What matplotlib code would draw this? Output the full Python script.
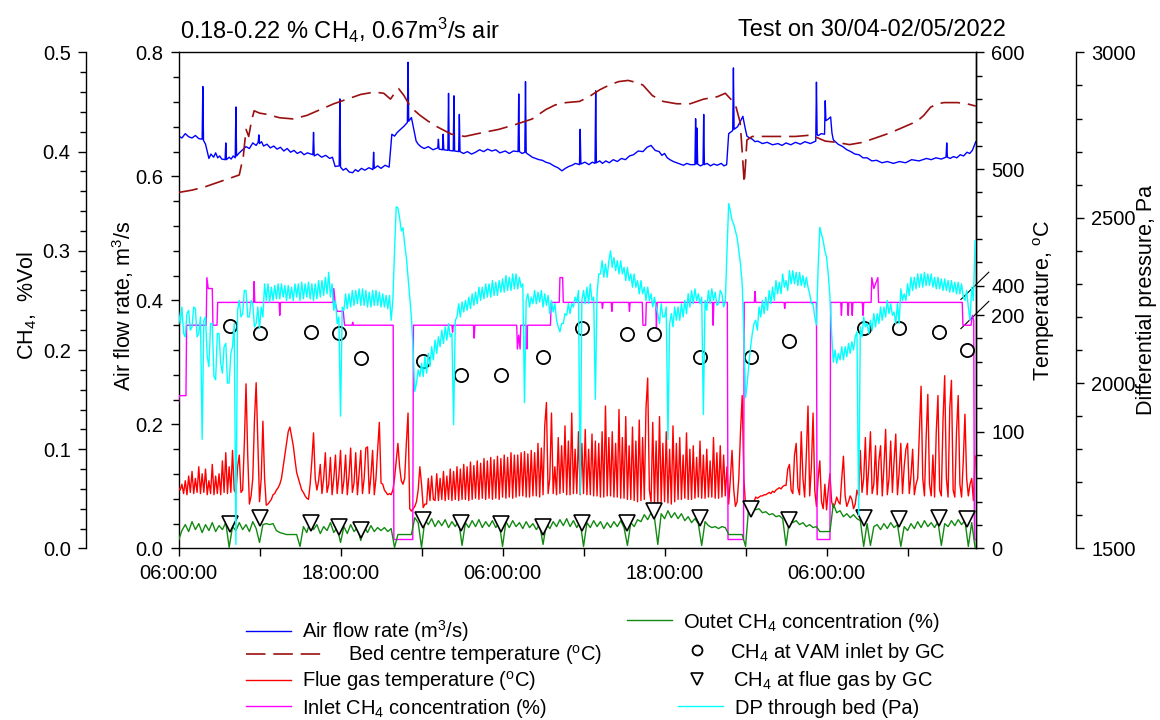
import numpy as np
import matplotlib
matplotlib.use('Agg')
import matplotlib.pyplot as plt
from matplotlib.ticker import MultipleLocator, FixedLocator, FuncFormatter

plt.rcParams['font.family'] = ['Liberation Sans', 'DejaVu Sans']
plt.rcParams['mathtext.fontset'] = 'custom'
plt.rcParams['mathtext.rm'] = 'Liberation Sans'
plt.rcParams['mathtext.it'] = 'Liberation Sans:italic'
plt.rcParams['mathtext.bf'] = 'Liberation Sans:bold'
plt.rcParams['mathtext.default'] = 'regular'

# ---- data (hours after 06:00 on 30/04/2022) ----
tick_hours = [0, 6, 12, 18, 24, 30, 36, 42, 48, 54]
tick_labels = ['06:00:00', '', '18:00:00', '', '06:00:00', '', '18:00:00', '', '06:00:00', '']

# air flow rate, m3/s  (hour, value)
air_flow = [
    (0, 0.665), (0.25, 0.662), (0.5, 0.669), (0.75, 0.664), (1.0, 0.662), (1.25, 0.666), (1.5, 0.661),
    (1.75, 0.660), (1.8, 0.745), (1.85, 0.658), (2.0, 0.652), (2.25, 0.629), (2.4, 0.636), (2.6, 0.631),
    (2.75, 0.638), (2.9, 0.630), (3.05, 0.633), (3.2, 0.628), (3.45, 0.627), (3.5, 0.654), (3.55, 0.627),
    (3.75, 0.631), (3.9, 0.628), (4.05, 0.633), (4.2, 0.630), (4.25, 0.712), (4.3, 0.633), (4.5, 0.638),
    (4.75, 0.643), (5.0, 0.648), (5.25, 0.645), (5.5, 0.654), (5.75, 0.650), (5.9, 0.655), (5.95, 0.667),
    (6.0, 0.653), (6.15, 0.656), (6.3, 0.649), (6.55, 0.652), (6.8, 0.646), (7.05, 0.649), (7.3, 0.644),
    (7.55, 0.647), (7.8, 0.641), (8.05, 0.645), (8.3, 0.639), (8.55, 0.642), (8.8, 0.637), (9.05, 0.640),
    (9.3, 0.635), (9.55, 0.638), (9.95, 0.635), (10.0, 0.671), (10.05, 0.633), (10.3, 0.636), (10.6, 0.631),
    (10.9, 0.634), (11.2, 0.629), (11.4, 0.631), (11.6, 0.616), (11.9, 0.617), (11.95, 0.725), (12.0, 0.615),
    (12.2, 0.610), (12.4, 0.613), (12.65, 0.607), (12.9, 0.606), (13.1, 0.611), (13.3, 0.608), (13.55, 0.613),
    (13.8, 0.610), (14.1, 0.614), (14.4, 0.611), (14.45, 0.639), (14.5, 0.613), (14.75, 0.617), (15.0, 0.613),
    (15.3, 0.618), (15.6, 0.615), (15.8, 0.668), (16.0, 0.665), (16.2, 0.671), (16.45, 0.676), (16.7, 0.681),
    (16.95, 0.687), (17.0, 0.784), (17.05, 0.689), (17.25, 0.695), (17.6, 0.657), (17.75, 0.652), (17.95, 0.648),
    (18.2, 0.645), (18.5, 0.648), (18.85, 0.643), (19.2, 0.646), (19.25, 0.660), (19.3, 0.644), (19.55, 0.643),
    (19.6, 0.668), (19.65, 0.643), (19.95, 0.642), (20.0, 0.734), (20.05, 0.642), (20.35, 0.641), (20.4, 0.730),
    (20.45, 0.641), (20.75, 0.640), (20.8, 0.700), (20.85, 0.640), (21.1, 0.637), (21.4, 0.640), (21.7, 0.636),
    (22.0, 0.639), (22.3, 0.643), (22.6, 0.640), (22.9, 0.644), (23.2, 0.641), (23.5, 0.643), (23.8, 0.638),
    (24.2, 0.641), (24.5, 0.637), (24.8, 0.641), (25.15, 0.640), (25.2, 0.733), (25.25, 0.640), (25.45, 0.637),
    (25.65, 0.639), (25.7, 0.753), (25.75, 0.638), (26.0, 0.634), (26.2, 0.631), (26.45, 0.629), (26.7, 0.627),
    (26.95, 0.626), (27.2, 0.623), (27.5, 0.621), (27.8, 0.617), (28.1, 0.614), (28.4, 0.609), (28.65, 0.613),
    (28.9, 0.616), (29.15, 0.618), (29.4, 0.621), (29.7, 0.619), (29.75, 0.676), (29.8, 0.620), (30.1, 0.623),
    (30.4, 0.619), (30.65, 0.623), (30.85, 0.621), (30.9, 0.738), (30.95, 0.622), (31.2, 0.625), (31.4, 0.621),
    (31.65, 0.625), (31.9, 0.622), (32.2, 0.627), (32.5, 0.624), (32.8, 0.629), (33.1, 0.627), (33.4, 0.633),
    (33.7, 0.635), (34.05, 0.641), (34.4, 0.640), (34.7, 0.647), (35.0, 0.650), (35.3, 0.642), (35.6, 0.640),
    (35.8, 0.634), (36.0, 0.637), (36.2, 0.630), (36.4, 0.627), (36.65, 0.624), (36.9, 0.622), (37.15, 0.620),
    (37.4, 0.618), (37.65, 0.621), (37.9, 0.619), (38.25, 0.619), (38.3, 0.693), (38.35, 0.620), (38.4, 0.678),
    (38.45, 0.620), (38.65, 0.617), (38.85, 0.619), (38.9, 0.700), (38.95, 0.619), (39.15, 0.621), (39.4, 0.617),
    (39.65, 0.620), (39.9, 0.618), (40.2, 0.621), (40.4, 0.617), (40.6, 0.619), (40.75, 0.669), (41.05, 0.674),
    (41.1, 0.775), (41.15, 0.676), (41.4, 0.680), (41.6, 0.688), (41.8, 0.697), (41.95, 0.680), (42.1, 0.665),
    (42.3, 0.662), (42.5, 0.660), (42.7, 0.656), (42.9, 0.657), (43.25, 0.653), (43.6, 0.655), (44.0, 0.651),
    (44.4, 0.653), (44.7, 0.650), (45.0, 0.654), (45.35, 0.651), (45.7, 0.655), (46.05, 0.652), (46.4, 0.656),
    (46.8, 0.653), (47.2, 0.657), (47.25, 0.752), (47.3, 0.668), (47.35, 0.666), (47.4, 0.666), (47.6, 0.669),
    (47.85, 0.668), (47.9, 0.722), (47.95, 0.690), (48.1, 0.692), (48.3, 0.696), (48.4, 0.670), (48.5, 0.659),
    (48.85, 0.652), (49.2, 0.648), (49.5, 0.643), (49.8, 0.640), (50.1, 0.636), (50.4, 0.635), (50.7, 0.630),
    (51.0, 0.630), (51.35, 0.625), (51.7, 0.626), (52.1, 0.622), (52.5, 0.624), (52.95, 0.621), (53.4, 0.624),
    (53.85, 0.622), (54.3, 0.627), (54.85, 0.625), (55.4, 0.629), (55.75, 0.627), (56.1, 0.630), (56.5, 0.628),
    (56.85, 0.631), (56.9, 0.654), (56.95, 0.631), (57.15, 0.629), (57.4, 0.632), (57.65, 0.630), (57.9, 0.635),
    (58.15, 0.633), (58.4, 0.639), (58.6, 0.637), (58.8, 0.642), (59.05, 0.656),
]

# bed centre temperature, degC  (hour, value)
bed_temp = [
    (0, 480), (1, 482), (2, 485), (3, 489), (4, 493), (4.5, 495), (4.8, 511), (5.0, 534), (5.2, 528),
    (5.4, 541), (5.6, 550), (6.0, 548), (6.5, 547), (7.5, 544), (8.5, 543), (9.5, 546), (10.5, 551),
    (11.5, 556), (12.5, 560), (13.5, 564), (14.5, 566), (15.2, 565), (15.7, 560), (16.0, 565), (16.3, 569),
    (16.7, 563), (17.2, 553), (17.9, 546), (18.5, 541), (19.2, 536), (20.2, 530), (21.2, 528), (22.4, 531),
    (23.7, 534), (24.9, 538), (26.2, 543), (27.2, 551), (27.9, 555), (28.7, 557), (29.7, 558), (30.4, 562),
    (31.2, 568), (31.9, 572), (32.6, 575), (33.3, 576), (34.0, 574), (34.4, 572), (35.1, 563), (35.9, 558),
    (36.9, 556), (37.9, 556), (38.9, 560), (39.9, 562), (40.5, 565), (40.9, 560), (41.3, 553), (41.6, 540),
    (41.75, 515), (41.9, 488), (42.0, 505), (42.1, 525), (42.5, 528), (43.4, 528), (44.4, 528), (45.7, 528),
    (46.7, 529), (47.3, 527), (47.9, 524), (48.7, 523), (49.7, 521), (50.7, 523), (51.7, 527), (52.7, 531),
    (53.7, 536), (54.7, 541), (55.2, 546), (55.7, 553), (56.2, 556), (56.7, 557), (57.7, 557), (58.4, 556),
    (59.05, 554),
]

# logger intervals
fast_step_h = 0.125   # flue gas temperature and DP
slow_step_h = 0.25    # outlet CH4

# flue gas temperature, degC (one row = 2 h)
flue_temp = [
    52, 50, 55, 47, 58, 46, 62, 48, 66, 47, 60, 48, 70, 47, 64, 48,
    68, 46, 58, 47, 72, 46, 62, 47, 64, 46, 75, 48, 82, 47, 70, 48,
    84, 50, 47, 70, 80, 48, 50, 90, 141, 80, 38, 45, 60, 110, 142, 90,
    40, 60, 109, 60, 37, 38, 40, 42, 46, 47, 50, 52, 55, 60, 70, 80,
    90, 100, 104, 96, 88, 76, 65, 60, 55, 50, 48, 45, 43, 42, 55, 75,
    99, 60, 50, 58, 72, 47, 60, 82, 48, 55, 78, 46, 60, 80, 47, 62,
    84, 47, 58, 80, 46, 62, 86, 48, 56, 82, 46, 64, 84, 47, 60, 86,
    87, 47, 62, 84, 46, 60, 85, 108, 56, 55, 50, 48, 46, 47, 46, 50,
    60, 75, 90, 70, 58, 55, 60, 90, 116, 34, 32, 34, 36, 40, 50, 70,
    55, 35, 38, 38, 60, 41, 62, 42, 41, 64, 41, 60, 42, 66, 41, 62,
    42, 68, 41, 66, 42, 70, 41, 68, 42, 72, 42, 70, 41, 74, 42, 71,
    43, 75, 42, 73, 43, 77, 42, 75, 43, 78, 42, 76, 43, 79, 42, 77,
    44, 80, 43, 78, 44, 82, 43, 80, 44, 80, 45, 82, 45, 83, 44, 81,
    44, 84, 45, 82, 45, 90, 44, 86, 46, 105, 125, 47, 60, 116, 47, 70,
    46, 95, 47, 88, 48, 105, 46, 92, 46, 116, 47, 85, 47, 100, 46, 90,
    47, 102, 46, 85, 46, 98, 45, 92, 45, 90, 44, 100, 44, 122, 45, 95,
    45, 100, 44, 90, 44, 119, 43, 95, 43, 113, 42, 88, 42, 104, 41, 92,
    40, 110, 41, 95, 42, 120, 146, 50, 40, 108, 39, 92, 39, 113, 40, 90,
    40, 100, 39, 85, 38, 105, 40, 90, 42, 95, 42, 80, 43, 99, 42, 85,
    42, 88, 43, 78, 44, 92, 43, 80, 43, 85, 44, 75, 44, 95, 43, 82,
    43, 88, 44, 80, 45, 70, 38, 60, 84, 50, 36, 40, 60, 100, 131, 60,
    36, 34, 32, 33, 36, 40, 44, 43, 44, 45, 45, 46, 46, 47, 48, 47,
    49, 48, 50, 51, 52, 51, 53, 54, 54, 68, 72, 50, 47, 80, 90, 52,
    46, 100, 60, 44, 80, 122, 45, 70, 116, 50, 36, 60, 75, 40, 34, 55,
    33, 50, 64, 40, 35, 38, 44, 40, 38, 60, 79, 45, 36, 40, 45, 42,
    34, 38, 50, 45, 84, 48, 60, 95, 46, 70, 100, 47, 55, 88, 46, 75,
    88, 45, 70, 102, 46, 60, 92, 48, 75, 98, 46, 65, 90, 47, 70, 85,
    90, 47, 62, 85, 46, 55, 60, 100, 139, 60, 45, 95, 132, 55, 45, 80,
    44, 100, 131, 50, 45, 110, 148, 60, 44, 120, 144, 50, 44, 100, 131, 55,
    44, 75, 115, 60, 45, 55, 60, 41, 79,
]

# differential pressure through bed, Pa (one row = 2 h)
dp_bed = [
    2215, 2180, 2230, 2150, 2140, 2210, 2220, 2160, 2170, 2230, 2225, 2140, 2150, 2200, 1830, 2190,
    2200, 2080, 2050, 2180, 2180, 2020, 2010, 2150, 2150, 2060, 2030, 2110, 2120, 2000, 2000, 2090,
    2110, 2180, 1512, 2220, 2250, 2200, 2210, 2280, 2280, 2200, 2200, 2250, 2240, 2170, 2180, 2230,
    2165, 2230, 2200, 2300, 2250, 2300, 2245, 2290, 2250, 2295, 2255, 2300, 2255, 2300, 2260, 2295,
    2250, 2295, 2255, 2290, 2250, 2300, 2260, 2300, 2250, 2305, 2255, 2300, 2260, 2305, 2255, 2300,
    2250, 2300, 2255, 2310, 2260, 2310, 2265, 2320, 2270, 2335, 2260, 2300, 2220, 2250, 2180, 2200,
    1900, 2230, 2220, 2270, 2225, 2270, 2230, 2280, 2235, 2280, 2240, 2285, 2235, 2285, 2235, 2280,
    2230, 2275, 2230, 2280, 2235, 2280, 2235, 2275, 2230, 2270, 2230, 2265, 2225, 2265, 2190, 2250,
    2400, 2533, 2530, 2500, 2460, 2470, 2420, 2380, 2320, 2260, 2200, 2100, 1975, 2000, 2040, 2020,
    2060, 2020, 2080, 2030, 2090, 2050, 2110, 2070, 2130, 2090, 2140, 2110, 2160, 2120, 2170, 2130,
    2180, 2140, 2150, 1874, 2190, 2200, 2240, 2200, 2245, 2215, 2250, 2220, 2260, 2225, 2270, 2235,
    2275, 2240, 2290, 2250, 2290, 2255, 2300, 2260, 2300, 2260, 2310, 2265, 2305, 2265, 2310, 2275,
    2315, 2275, 2325, 2280, 2320, 2280, 2330, 2285, 2330, 2285, 2320, 2290, 2300, 1941, 2250, 2270,
    2230, 2260, 2240, 2280, 2240, 2275, 2245, 2280, 2230, 2270, 2235, 2265, 2210, 2250, 2215, 2240,
    2190, 2170, 2155, 2180, 2180, 2210, 2205, 2240, 2210, 2240, 2230, 2260, 2245, 2280, 1665, 2250,
    2280, 2240, 2290, 2240, 2300, 2250, 2260, 1951, 2270, 2330, 2330, 2370, 2320, 2360, 2320, 2370,
    2400, 2350, 2380, 2340, 2370, 2330, 2370, 2330, 2350, 2310, 2350, 2310, 2330, 2290, 2330, 2290,
    2310, 2270, 2310, 2270, 2290, 2250, 2290, 2250, 2270, 2230, 2260, 2230, 2210, 2180, 2240, 2200,
    2200, 2230, 1829, 2180, 2210, 2170, 2230, 2190, 2230, 2190, 2240, 2200, 2250, 2210, 2270, 2230,
    2280, 2240, 2285, 2250, 2270, 2240, 2260, 1905, 2250, 2220, 2280, 2240, 2285, 2250, 2275, 2235,
    2240, 2280, 2270, 2230, 2245, 2400, 2543, 2520, 2492, 2480, 2460, 2440, 2400, 2360, 2300, 2150,
    1956, 2000, 2060, 2110, 2150, 2180, 2190, 2160, 2230, 2200, 2250, 2210, 2260, 2220, 2280, 2240,
    2290, 2250, 2310, 2270, 2305, 2270, 2330, 2290, 2310, 2280, 2340, 2300, 2340, 2300, 2335, 2295,
    2335, 2295, 2325, 2290, 2320, 2290, 2270, 2240, 2240, 2200, 2176, 2350, 2471, 2450, 2430, 2400,
    2380, 2330, 2260, 2150, 2063, 2100, 2060, 2090, 2070, 2110, 2070, 2110, 2080, 2120, 2090, 2125,
    2100, 2140, 2155, 1600, 2170, 2140, 2200, 2170, 2180, 2150, 2190, 2160, 2210, 2170, 2210, 2180,
    2230, 2190, 2230, 2200, 2250, 2210, 2240, 2205, 2215, 2180, 2240, 2180, 2285, 2250, 2270, 2250,
    2300, 2265, 2320, 2280, 2320, 2285, 2330, 2290, 2330, 2290, 2335, 2295, 2330, 2295, 2330, 2290,
    2320, 2285, 2320, 2285, 2315, 2280, 2315, 2280, 2310, 2275, 2310, 2275, 2305, 2270, 2305, 2270,
    2300, 2260, 2250, 2280, 2230, 2190, 2290, 2250, 2430,
]

# outlet CH4 concentration, % (one row = 2 h)
outlet_ch4 = [
    0.008, 0.018, 0.024, 0.017, 0.027, 0.019, 0.025, 0.016,
    0.024, 0.018, 0.026, 0.017, 0.023, 0.019, 0.026, 0.001,
    0.022, 0.018, 0.026, 0.019, 0.024, 0.017, 0.027, 0.020,
    0.006, 0.024, 0.025, 0.024, 0.025, 0.018, 0.016, 0.015,
    0.014, 0.014, 0.014, 0.014, 0.002, 0.022, 0.016, 0.027,
    0.019, 0.024, 0.015, 0.022, 0.018, 0.026, 0.016, 0.021,
    0.006, 0.022, 0.015, 0.024, 0.017, 0.021, 0.008, 0.022,
    0.016, 0.023, 0.017, 0.021, 0.018, 0.021, 0.017, 0.020,
    0.001, 0.014, 0.014, 0.014, 0.014, 0.014, 0.031, 0.026,
    0.001, 0.029, 0.024, 0.030, 0.022, 0.028, 0.023, 0.029,
    0.021, 0.027, 0.022, 0.028, 0.003, 0.026, 0.021, 0.028,
    0.022, 0.029, 0.021, 0.027, 0.022, 0.028, 0.021, 0.026,
    0.002, 0.027, 0.021, 0.028, 0.022, 0.026, 0.020, 0.027,
    0.021, 0.025, 0.019, 0.024, 0.004, 0.025, 0.020, 0.027,
    0.022, 0.029, 0.023, 0.030, 0.022, 0.028, 0.021, 0.027,
    0.002, 0.026, 0.021, 0.028, 0.022, 0.027, 0.020, 0.026,
    0.021, 0.027, 0.022, 0.028, 0.021, 0.003, 0.026, 0.022,
    0.029, 0.027, 0.034, 0.029, 0.036, 0.031, 0.004, 0.035,
    0.030, 0.038, 0.031, 0.036, 0.030, 0.035, 0.028, 0.032,
    0.026, 0.030, 0.025, 0.003, 0.027, 0.023, 0.021, 0.022,
    0.020, 0.022, 0.021, 0.014, 0.014, 0.014, 0.014, 0.014,
    0.002, 0.045, 0.041, 0.039, 0.040, 0.036, 0.037, 0.034,
    0.035, 0.032, 0.033, 0.030, 0.003, 0.029, 0.026, 0.028,
    0.024, 0.026, 0.022, 0.024, 0.021, 0.022, 0.017, 0.017,
    0.017, 0.017, 0.045, 0.036, 0.038, 0.032, 0.035, 0.031,
    0.034, 0.030, 0.028, 0.002, 0.025, 0.003, 0.022, 0.024,
    0.019, 0.025, 0.020, 0.026, 0.021, 0.024, 0.002, 0.022,
    0.018, 0.025, 0.020, 0.027, 0.021, 0.028, 0.022, 0.026,
    0.021, 0.027, 0.003, 0.025, 0.022, 0.028, 0.023, 0.029,
    0.024, 0.028, 0.002, 0.026, 0.001,
]

# inlet CH4 concentration, %  (hour, value)
inlet_ch4 = [
    (0, 0.147), (0.05, 0.154), (0.55, 0.154), (0.6, 0.225), (2.05, 0.225), (2.1, 0.273), (2.2, 0.262),
    (2.5, 0.262), (2.55, 0.225), (2.85, 0.225), (2.9, 0.248), (5.55, 0.248), (5.6, 0.269), (5.65, 0.248),
    (7.45, 0.248), (7.5, 0.235), (7.55, 0.248), (11.45, 0.248), (11.5, 0.262), (11.6, 0.248), (11.75, 0.239),
    (12.2, 0.239), (12.3, 0.225), (12.85, 0.225), (12.9, 0.228), (12.95, 0.225), (15.9, 0.225), (15.95, 0.009),
    (17.35, 0.009), (17.4, 0.225), (20.25, 0.225), (20.3, 0.218), (20.35, 0.225), (21.85, 0.225), (21.9, 0.212),
    (21.95, 0.225), (25.05, 0.225), (25.1, 0.201), (25.2, 0.215), (25.3, 0.201), (25.35, 0.225), (25.75, 0.225),
    (25.8, 0.201), (25.85, 0.225), (27.55, 0.225), (27.6, 0.248), (28.2, 0.248), (28.25, 0.273), (28.45, 0.273),
    (28.5, 0.248), (31.35, 0.248), (31.4, 0.242), (31.45, 0.248), (32.05, 0.248), (32.1, 0.239), (32.15, 0.248),
    (33.35, 0.248), (33.4, 0.239), (33.45, 0.248), (34.35, 0.248), (34.4, 0.225), (34.6, 0.225), (34.65, 0.248),
    (35.35, 0.248), (35.4, 0.222), (35.45, 0.248), (39.55, 0.248), (39.6, 0.225), (39.65, 0.248), (40.65, 0.248),
    (40.7, 0.009), (41.85, 0.009), (41.9, 0.248), (42.65, 0.248), (42.7, 0.259), (42.75, 0.248), (44.85, 0.248),
    (44.9, 0.242), (44.95, 0.248), (47.25, 0.248), (47.3, 0.009), (48.25, 0.009), (48.3, 0.248), (49.05, 0.248),
    (49.1, 0.235), (49.15, 0.248), (49.55, 0.248), (49.6, 0.235), (49.65, 0.248), (49.85, 0.248), (49.9, 0.235),
    (49.95, 0.248), (50.65, 0.248), (50.7, 0.235), (50.75, 0.248), (51.3, 0.248), (51.35, 0.273), (51.5, 0.262),
    (51.8, 0.273), (51.85, 0.248), (58.05, 0.248), (58.1, 0.225), (58.7, 0.225), (58.8, 0.235), (58.9, 0.230),
    (58.95, 0.009), (59.05, 0.009),
]

# GC samples
gc_hours = [3.83, 6.05, 9.8, 11.9, 13.5, 18.1, 20.9, 23.9, 27.0, 29.9, 33.2, 35.2, 38.6, 42.4, 45.2,
            50.8, 53.4, 56.3, 58.4]
gc_vam_inlet = [0.224, 0.217, 0.218, 0.217, 0.192, 0.189, 0.175, 0.175, 0.193, 0.222, 0.216, 0.216,
                0.193, 0.193, 0.209, 0.222, 0.222, 0.218, 0.200]
gc_flue_gas = [0.025, 0.031, 0.026, 0.022, 0.019, 0.029, 0.026, 0.025, 0.022, 0.026, 0.026, 0.038,
               0.031, 0.040, 0.029, 0.031, 0.030, 0.031, 0.030]

x_end = 59.07


# temperature axis is broken between 200 and 400 degC
def temp_fwd(t):
    t = np.asarray(t, dtype=float)
    return np.where(t <= 200, t, np.where(t >= 400, t - 175, 200 + (t - 200) * 0.125))


def temp_inv(u):
    u = np.asarray(u, dtype=float)
    return np.where(u <= 200, u, np.where(u >= 225, u + 175, 200 + (u - 200) * 8))


air_h, air_v = zip(*air_flow)
bed_h, bed_v = zip(*bed_temp)
inlet_h, inlet_v = zip(*inlet_ch4)
flue_h = np.arange(len(flue_temp)) * fast_step_h
dp_h = np.arange(len(dp_bed)) * fast_step_h
out_h = np.arange(len(outlet_ch4)) * slow_step_h

fig = plt.figure(figsize=(11.6, 7.2), dpi=100)
ax = fig.add_axes([0.1539, 0.2383, 0.6875, 0.6889])
ax_t = ax.twinx()
ax_c = ax.twinx()
ax_p = ax.twinx()

lw = 1.0
l_air, = ax.plot(air_h, air_v, color='#0000ff', lw=lw, label='Air flow rate (m$^3$/s)')
l_bed, = ax_t.plot(bed_h, bed_v, color='#9a1010', lw=1.2, ls=(0, (11.7, 4.7)),
                   label='Bed centre temperature ($^{\\rm o}$C)')
l_flue, = ax_t.plot(flue_h, flue_temp, color='#ff0000', lw=lw, label='Flue gas temperature ($^{\\rm o}$C)')
l_in, = ax_c.plot(inlet_h, inlet_v, color='#ff00ff', lw=lw, label='Inlet CH$_4$ concentration (%)')
l_out, = ax_c.plot(out_h, outlet_ch4, color='#128a12', lw=lw, label='Outet CH$_4$ concentration (%)')
m_vam, = ax_c.plot(gc_hours, gc_vam_inlet, ls='none', marker='o', ms=9.5, mfc='none', mec='black',
                   mew=1.3, label='CH$_4$ at VAM inlet by GC')
m_flue, = ax_c.plot(gc_hours, gc_flue_gas, ls='none', marker='v', ms=11, mfc='white', mec='black',
                    mew=1.2, label='CH$_4$ at flue gas by GC')
l_dp, = ax_p.plot(dp_h, dp_bed, color='#00ffff', lw=lw, label='DP through bed (Pa)')

# axes ranges
ax.set_xlim(0, x_end)
ax.set_ylim(0, 0.8)
ax_t.set_yscale('function', functions=(temp_fwd, temp_inv))
ax_t.set_ylim(0, 600)
ax_c.set_ylim(0, 0.5)
ax_p.set_ylim(1500, 3000)

tick_font = 14.5
label_font = 15.5

# x axis
ax.set_xticks(tick_hours)
ax.set_xticklabels(tick_labels)
ax.tick_params(axis='x', which='both', direction='out', length=6, width=1, labelsize=tick_font, pad=5,
               top=False)

# air flow axis (main left)
ax.yaxis.set_major_locator(MultipleLocator(0.2))
ax.yaxis.set_minor_locator(MultipleLocator(0.04))
ax.yaxis.set_major_formatter(FuncFormatter(lambda v, p: f'{v:.1f}'))
ax.tick_params(axis='y', which='both', direction='out', labelsize=tick_font, pad=5, right=False)
ax.tick_params(axis='y', which='major', length=6, width=1)
ax.tick_params(axis='y', which='minor', length=4, width=1)
ax.set_ylabel('Air flow rate, m$^3$/s', fontsize=label_font, va='center')
ax.yaxis.set_label_coords(-0.0696, 0.49)

# temperature axis (right spine, broken)
ax_t.spines['left'].set_visible(False)
ax_t.spines['top'].set_visible(False)
ax_t.spines['bottom'].set_visible(False)
ax_t.yaxis.set_major_locator(FixedLocator([0, 100, 200, 400, 500, 600]))
ax_t.yaxis.set_minor_locator(FixedLocator(list(range(20, 200, 20)) + list(range(420, 600, 20))))
ax_t.yaxis.set_major_formatter(FuncFormatter(lambda v, p: f'{v:.0f}'))
ax_t.yaxis.set_minor_formatter(FuncFormatter(lambda v, p: ''))
ax_t.tick_params(axis='y', which='both', direction='out', labelsize=tick_font, pad=5)
ax_t.tick_params(axis='y', which='major', length=6, width=1)
ax_t.tick_params(axis='y', which='minor', length=4, width=1)
ax_t.set_ylabel('Temperature, $^{\\rm o}$C', fontsize=label_font, va='center')
ax_t.yaxis.set_label_coords(1.085, 0.5)

# break marks on temperature axis
full = float(temp_fwd(600))
for t_break in (400, 200):
    yb = float(temp_fwd(t_break)) / full
    ax_t.plot([0.981, 1.016], [yb - 0.0275, yb + 0.0275], transform=ax_t.transAxes, color='black',
              lw=0.8, clip_on=False)

# CH4 axis (outer left)
ax_c.yaxis.set_label_position('left')
ax_c.yaxis.set_ticks_position('left')
ax_c.spines['left'].set_position(('axes', -0.116))
ax_c.spines['left'].set_visible(True)
for s in ('right', 'top', 'bottom'):
    ax_c.spines[s].set_visible(False)
ax_c.yaxis.set_major_locator(MultipleLocator(0.1))
ax_c.yaxis.set_minor_locator(MultipleLocator(0.02))
ax_c.yaxis.set_major_formatter(FuncFormatter(lambda v, p: f'{v:.1f}'))
ax_c.tick_params(axis='y', which='both', direction='out', labelsize=tick_font, pad=5)
ax_c.tick_params(axis='y', which='major', length=6, width=1)
ax_c.tick_params(axis='y', which='minor', length=4, width=1)
ax_c.set_ylabel('CH$_4$,  %Vol', fontsize=label_font, va='center')
ax_c.yaxis.set_label_coords(-0.19, 0.49)

# differential pressure axis (outer right)
ax_p.spines['right'].set_position(('axes', 1.1254))
for s in ('left', 'top', 'bottom'):
    ax_p.spines[s].set_visible(False)
ax_p.yaxis.set_major_locator(MultipleLocator(500))
ax_p.yaxis.set_minor_locator(MultipleLocator(100))
ax_p.tick_params(axis='y', which='both', direction='out', labelsize=tick_font, pad=5)
ax_p.tick_params(axis='y', which='major', length=6, width=1)
ax_p.tick_params(axis='y', which='minor', length=4, width=1)
ax_p.set_ylabel('Differential pressure, Pa', fontsize=label_font, va='center')
ax_p.yaxis.set_label_coords(1.214, 0.5)

for a in (ax, ax_t, ax_c, ax_p):
    for s in a.spines.values():
        s.set_linewidth(1.0)

# titles
fig.text(180 / 1160, 1 - 30 / 720, '0.18-0.22 % CH$_4$, 0.67m$^3$/s air', fontsize=17, ha='left', va='center')
fig.text(1006 / 1160, 1 - 30 / 720, 'Test on 30/04-02/05/2022', fontsize=17, ha='right', va='center')


# legend: one key per row, placed like the original two-column block
def add_key(handle, x_px, y_px, hlen, pad, mscale=1.0):
    fig.legend(handles=[handle], loc='center left', bbox_to_anchor=(x_px / 1160, 1 - y_px / 720),
               frameon=False, fontsize=14.5, handlelength=hlen, handletextpad=pad,
               borderpad=0, borderaxespad=0, numpoints=1, markerscale=mscale)


add_key(l_air, 246, 631, 2.24, 0.55)
add_key(l_bed, 246, 655, 3.7, 1.35)
add_key(l_flue, 246, 681, 2.24, 0.55)
add_key(l_in, 246, 708, 2.24, 0.55)
add_key(l_out, 627, 622, 2.24, 0.55)
add_key(m_vam, 680, 652, 1.7, 0.8, 0.75)
add_key(m_flue, 680, 681, 1.7, 0.95, 0.75)
add_key(l_dp, 678, 708, 2.24, 0.6)

fig.savefig('out.png', dpi=100)
